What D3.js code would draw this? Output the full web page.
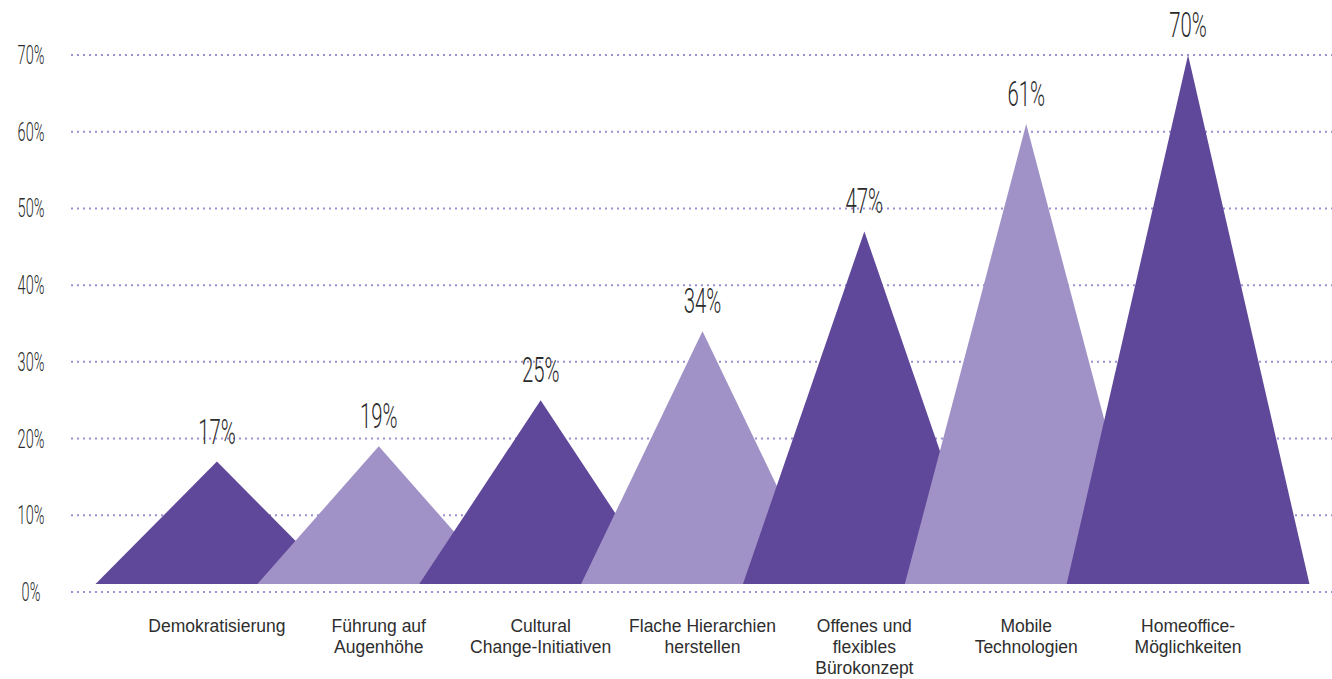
<!DOCTYPE html>
<html>
<head>
<meta charset="utf-8">
<script src="https://cdn.jsdelivr.net/npm/d3@7"></script>
<style>
  body { margin: 0; background: #fff; }
  svg { display: block; }
</style>
</head>
<body>
<svg id="chart" width="1332" height="679"></svg>
<script>
// chart data
const categories = [
  "Demokratisierung",
  "Führung auf\nAugenhöhe",
  "Cultural\nChange-Initiativen",
  "Flache Hierarchien\nherstellen",
  "Offenes und\nflexibles\nBürokonzept",
  "Mobile\nTechnologien",
  "Homeoffice-\nMöglichkeiten"
];
const values = [17, 19, 25, 34, 47, 61, 70];
const tickValues = [0, 10, 20, 30, 40, 50, 60, 70];
const palette = ["#5f4799", "#a092c6"];

var svg = d3.select('#chart');
var width = +svg.attr('width');

// scales
var y = d3.scaleLinear().domain([0, 70]).range([592, 55]);
var x = d3.scaleBand().domain(categories).range([136, 1269]).padding(0);

var baseGap = 8;            // triangles sit a little above the 0% line
var halfWidth = x.step() * 0.75;
var condensed = 0.58;       // squeeze for the narrow number font

// dotted gridlines
svg.append('g')
  .selectAll('line')
  .data(tickValues)
  .enter()
  .append('line')
  .attr('x1', 71)
  .attr('x2', width)
  .attr('y1', d => y(d))
  .attr('y2', d => y(d))
  .attr('stroke', '#9d90d2')
  .attr('stroke-width', 2)
  .attr('stroke-dasharray', '2,4');

// y tick labels
svg.append('g')
  .selectAll('g')
  .data(tickValues)
  .enter()
  .append('g')
  .attr('transform', d => `translate(31, ${y(d) + 9}) scale(${condensed}, 1)`)
  .append('text')
  .attr('text-anchor', 'middle')
  .style('font-family', 'Roboto, "Liberation Sans", sans-serif')
  .style('font-weight', 300)
  .style('font-size', '25px')
  .attr('fill', '#2b2b2b')
  .text(d => d + '%');

// triangles, later ones drawn on top
var base = y(0) - baseGap;
svg.append('g')
  .selectAll('path')
  .data(values)
  .enter()
  .append('path')
  .attr('d', (d, i) => {
    var cx = x(categories[i]) + x.bandwidth() / 2;
    return `M${cx - halfWidth},${base} L${cx},${y(d)} L${cx + halfWidth},${base} Z`;
  })
  .attr('fill', (d, i) => palette[i % 2]);

// value labels above the peaks
svg.append('g')
  .selectAll('g')
  .data(values)
  .enter()
  .append('g')
  .attr('transform', (d, i) => `translate(${x(categories[i]) + x.bandwidth() / 2}, ${y(d) - 18}) scale(${condensed}, 1)`)
  .append('text')
  .attr('text-anchor', 'middle')
  .style('font-family', 'Roboto, "Liberation Sans", sans-serif')
  .style('font-weight', 300)
  .style('font-size', '35px')
  .attr('fill', '#2b2b2b')
  .text(d => d + '%');

// category labels
var labels = svg.append('g')
  .selectAll('text')
  .data(categories)
  .enter()
  .append('text')
  .attr('text-anchor', 'middle')
  .attr('x', d => x(d) + x.bandwidth() / 2)
  .attr('y', 632)
  .style('font-family', '"Liberation Sans", Arial, sans-serif')
  .style('font-size', '17.5px')
  .attr('fill', '#2e2e2e');

labels.selectAll('tspan')
  .data(d => d.split('\n').map(t => ({ t: t, cx: x(d) + x.bandwidth() / 2 })))
  .enter()
  .append('tspan')
  .attr('x', d => d.cx)
  .attr('dy', (d, i) => i === 0 ? 0 : 21)
  .text(d => d.t);
</script>
</body>
</html>
